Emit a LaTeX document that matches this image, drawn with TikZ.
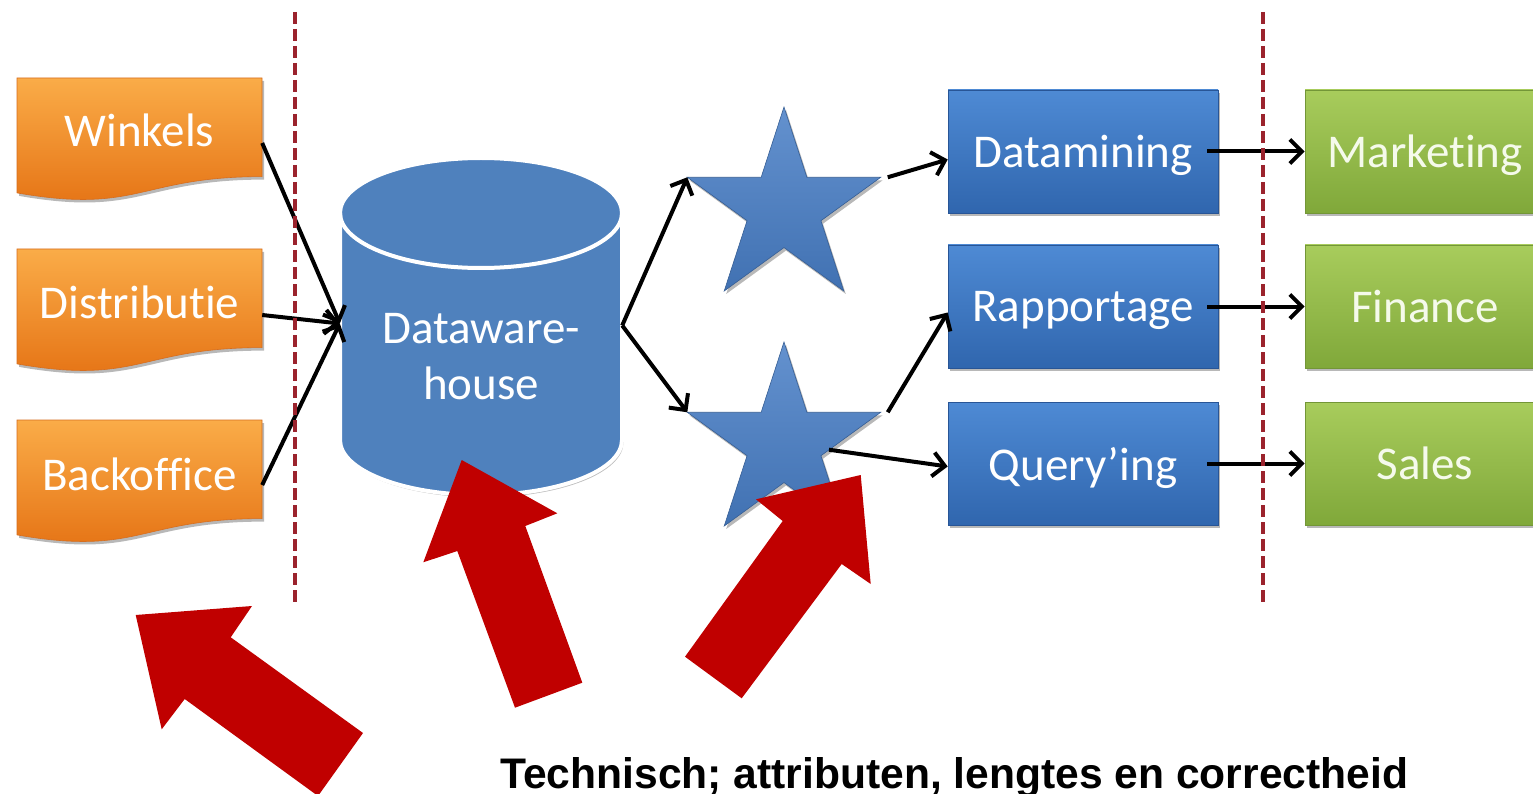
\documentclass[tikz,border=0pt]{standalone}
\usepackage{graphicx}
\usepackage{fontspec}
\setmainfont{Carlito}[Ligatures=NoCommon]
\newfontfamily\arialfam{Liberation Sans}
\usetikzlibrary{arrows.meta,shadows}
\definecolor{sepred}{RGB}{155,35,45}
\definecolor{bigred}{RGB}{192,0,0}
\definecolor{orangetop}{RGB}{250,172,72}
\definecolor{orangebot}{RGB}{228,112,18}
\definecolor{orangeedge}{RGB}{215,110,30}
\definecolor{bluetop}{RGB}{78,138,212}
\definecolor{bluebot}{RGB}{48,102,174}
\definecolor{blueedge}{RGB}{40,85,150}
\definecolor{greentop}{RGB}{168,204,92}
\definecolor{greenbot}{RGB}{128,168,58}
\definecolor{greenedge}{RGB}{115,150,55}
\definecolor{cylblue}{RGB}{79,129,189}
\definecolor{starblue}{RGB}{72,126,198}
\tikzset{
  softshadow/.style={drop shadow={shadow xshift=2pt,shadow yshift=-3pt,fill=black,opacity=0.28}},
  docshape/.style={top color=orangetop,bottom color=orangebot,draw=orangeedge,line width=0.6pt,softshadow},
  doctext/.style={rectangle,minimum width=245pt,minimum height=100pt,inner sep=0,text=white,font=\fontsize{47}{52}\selectfont},
  bluebox/.style={rectangle,minimum width=270pt,minimum height=123pt,inner sep=0,text depth=0pt,top color=bluetop,bottom color=bluebot,draw=blueedge,line width=0.6pt,text=white,font=\fontsize{47}{52}\selectfont,softshadow},
  greenbox/.style={rectangle,minimum width=240pt,minimum height=123pt,inner sep=0,text depth=0pt,top color=greentop,bottom color=greenbot,draw=greenedge,line width=0.6pt,text={rgb,255:red,245;green,250;blue,235},font=\fontsize{47}{52}\selectfont,softshadow},
  starshape/.style={top color=starblue!85!white,bottom color=starblue!90!black,draw=starblue!75!black,line width=0.6pt,softshadow},
  conn/.style={draw=black,line width=4pt,-{Straight Barb[length=12pt,width=24pt]}},
  sepline/.style={draw=sepred,line width=3.5pt,dash pattern=on 12pt off 5pt},
  bigarrow/.style={fill=bigred},
}
\begin{document}
\begin{tikzpicture}[x=1pt,y=-1pt]
\useasboundingbox (0,0) rectangle (1533,794);
\clip (0,0) rectangle (1533,794);
\fill[white] (0,0) rectangle (1533,794);

% orange document shapes
\path[docshape] (17,78) -- (262,78) -- (262,176.6) .. controls (139.5,176.6) and (139.5,214.3) .. (17,192.9) -- cycle;
\path[docshape] (17,249) -- (262,249) -- (262,347.6) .. controls (139.5,347.6) and (139.5,385.3) .. (17,363.9) -- cycle;
\path[docshape] (17,420) -- (262,420) -- (262,518.6) .. controls (139.5,518.6) and (139.5,556.3) .. (17,534.9) -- cycle;
\node[doctext] (win) at (139.5,130) {Winkels};
\node[doctext] (dis) at (139.5,302) {Distributie};
\node[doctext] (bo) at (139.5,474) {Backoffice};

% cylinder
\path[fill=cylblue,draw=white,line width=4pt,drop shadow={shadow xshift=1.5pt,shadow yshift=-2.5pt,fill=black,opacity=0.25}]
  (340,213) -- (340,440) arc[start angle=180,end angle=360,x radius=141pt,y radius=55pt]
  -- (622,213) arc[start angle=0,end angle=180,x radius=141pt,y radius=55pt] -- cycle;
\draw[white,line width=4pt] (340,213) arc[start angle=180,end angle=360,x radius=141pt,y radius=55pt];
\node[rectangle,minimum width=282pt,minimum height=339pt,inner sep=0] (dw) at (481,327.5) {};
\node[align=center,text=white,font=\fontsize{47}{56}\selectfont,inner sep=0] (dwt) at (481,357) {Dataware-\\house};

% stars
\path[starshape] (784,107) -- (806.84,177.27) -- (880.72,177.27) coordinate (s1r) -- (820.95,220.71)
  -- (843.78,290.98) -- (784,247.55) -- (724.22,290.98) -- (747.05,220.71)
  -- (687.28,177.27) coordinate (s1l) -- (761.16,177.27) -- cycle;
\path[starshape] (784,342) -- (806.84,412.27) -- (880.72,412.27) coordinate (s2r) -- (820.95,455.71) coordinate (s2ri)
  -- (843.78,525.98) -- (784,482.55) -- (724.22,525.98) -- (747.05,455.71)
  -- (687.28,412.27) coordinate (s2l) -- (761.16,412.27) -- cycle;

% blue boxes
\node[bluebox] (dm) at (1083,151.5) {Datamining};
\node[bluebox] (rp) at (1083,306.5) {Rapportage};
\node[bluebox] (qi) at (1083,463.5) {Query’ing};

% green boxes
\node[greenbox] (mk) at (1425,151.5) {Marketing};
\node[greenbox] (fi) at (1425,306.5) {Finance};
\node[greenbox] (sa) at (1425,463.5) {Sales};

% connectors
\draw[conn] ([yshift=-13pt]win.east) -- ([yshift=4pt]dw.west);
\draw[conn] ([yshift=-13pt]dis.east) -- ([yshift=4pt]dw.west);
\draw[conn] ([yshift=-11pt]bo.east) -- ([yshift=4pt]dw.west);
\draw[conn] ([yshift=2pt]dw.east) -- (s1l);
\draw[conn] ([yshift=2pt]dw.east) -- (s2l);
\draw[conn] ([xshift=7pt]s1r) -- ([yshift=-8pt]dm.west);
\draw[conn] ([xshift=7pt]s2r) -- ([yshift=-6pt]rp.west);
\draw[conn] ([xshift=8pt,yshift=6pt]s2ri) -- ([yshift=-3pt]qi.west);
\draw[conn,shorten <=-11pt] (dm.east) -- (mk.west);
\draw[conn,shorten <=-11pt] (rp.east) -- (fi.west);
\draw[conn,shorten <=-11pt] (qi.east) -- (sa.west);

% separators
\coordinate (d1t) at (295,12);
\coordinate (d1b) at (295,605);
\coordinate (d2t) at (1263,12);
\coordinate (d2b) at (1263,605);
\draw[sepline] (d1t) -- (d1b);
\draw[sepline] (d2t) -- (d2b);

% big red arrows
\fill[bigarrow] (135.7,615) -- (252,606) -- (230.7,637.3) -- (363,733) -- (318,796) -- (184.7,699) -- (161.7,729.3) -- cycle;
\fill[bigarrow] (461.7,460) -- (557.3,513.3) -- (525.3,526) -- (582.3,682.7) -- (515,707.7) -- (457.3,551) -- (423.3,562.3) -- cycle;
\fill[bigarrow] (860.7,475) -- (870.7,584) -- (841.7,564) -- (741.7,698.3) -- (685,656.7) -- (782.7,521) -- (756,499.3) -- cycle;

% caption
\node[anchor=base west,inner sep=0] (cap) at (500,788) {\resizebox{908pt}{31pt}{\arialfam\bfseries\fontsize{40}{48}\selectfont Technisch; attributen, lengtes en correctheid}};
\end{tikzpicture}
\end{document}
